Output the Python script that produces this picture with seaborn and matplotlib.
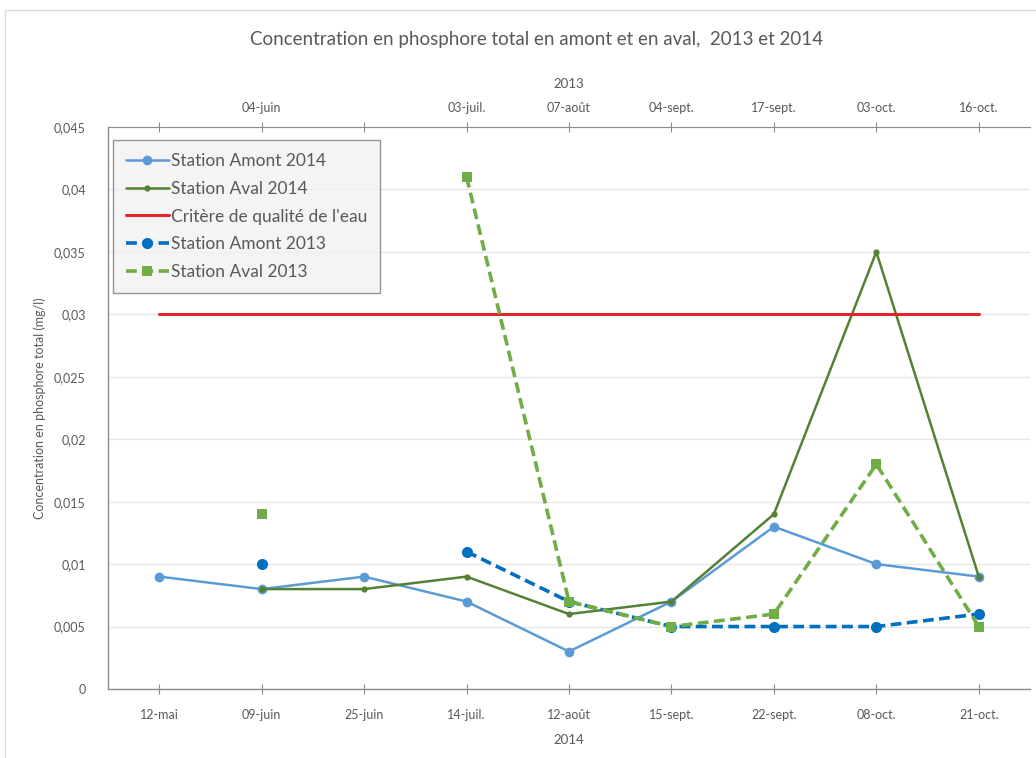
import numpy as np
import pandas as pd
import matplotlib
matplotlib.use("Agg")
import matplotlib.pyplot as plt
from matplotlib.lines import Line2D
from matplotlib.patches import Rectangle
import seaborn as sns

# Sampling dates (category axis): 2014 at the bottom, 2013 on top
dates_2014 = ["12-mai", "09-juin", "25-juin", "14-juil.", "12-août",
              "15-sept.", "22-sept.", "08-oct.", "21-oct."]
dates_2013 = ["", "04-juin", "", "03-juil.", "07-août",
              "04-sept.", "17-sept.", "03-oct.", "16-oct."]

# Total phosphorus (mg/l)
amont_2014 = [0.009, 0.008, 0.009, 0.007, 0.003, 0.007, 0.013, 0.010, 0.009]
aval_2014 = [np.nan, 0.008, 0.008, 0.009, 0.006, 0.007, 0.014, 0.035, 0.009]
critere = [0.03, 0.03, 0.03, 0.03, 0.03, 0.03, 0.03, 0.03, 0.03]
amont_2013 = [np.nan, 0.010, np.nan, 0.011, 0.007, 0.005, 0.005, 0.005, 0.006]
aval_2013 = [np.nan, 0.014, np.nan, 0.041, 0.007, 0.005, 0.006, 0.018, 0.005]

y_ticks = [0, 0.005, 0.01, 0.015, 0.02, 0.025, 0.03, 0.035, 0.04, 0.045]
y_labels = ["0", "0,005", "0,01", "0,015", "0,02", "0,025", "0,03", "0,035", "0,04", "0,045"]

TXT = "#595959"
AXC = "#8C8C8C"

sns.set_style("white")
plt.rcParams["font.family"] = ["Lato", "DejaVu Sans"]


def to_frame(values):
    # split on gaps so missing samples break the line
    df = pd.DataFrame({"x": range(len(values)), "y": values})
    df["seg"] = df["y"].isna().cumsum()
    return df.dropna()


fig = plt.figure(figsize=(10.36, 7.58), dpi=100)
ax = fig.add_axes([108 / 1036, 1 - 689 / 758, 922 / 1036, 562 / 758])

series = [
    ("Station Amont 2014", amont_2014, dict(color="#5B9BD5", marker="o", markersize=7, linewidth=1.8, linestyle="-")),
    ("Station Aval 2014", aval_2014, dict(color="#548235", marker="o", markersize=4.5, linewidth=1.8, linestyle="-")),
    ("Critère de qualité de l'eau", critere, dict(color="#E3242B", marker=None, markersize=0, linewidth=2.2, linestyle="-")),
    ("Station Amont 2013", amont_2013, dict(color="#0070C0", marker="o", markersize=8, linewidth=2.6, linestyle=(0, (3, 1.5)))),
    ("Station Aval 2013", aval_2013, dict(color="#70AD47", marker="s", markersize=7, linewidth=2.6, linestyle=(0, (3, 1.5)))),
]

handles = []
for name, vals, st in series:
    df = to_frame(vals)
    sns.lineplot(data=df, x="x", y="y", units="seg", estimator=None, ax=ax,
                 color=st["color"], marker=st["marker"], markersize=st["markersize"],
                 markeredgewidth=0, linewidth=st["linewidth"], linestyle=st["linestyle"],
                 legend=False)
    handles.append(Line2D([], [], color=st["color"], marker=st["marker"], markersize=st["markersize"],
                          markeredgewidth=0, linewidth=st["linewidth"], linestyle=st["linestyle"], label=name))

n = len(dates_2014)
ax.set_xlim(-0.5, n - 0.5)
ax.set_ylim(0, 0.045)
ax.set_xticks(range(n))
ax.set_xticklabels(dates_2014)
ax.set_yticks(y_ticks)
ax.set_yticklabels(y_labels)
ax.yaxis.grid(True, color="#E6E6E6", linewidth=1)
ax.set_axisbelow(True)
ax.set_xlabel("2014", color=TXT, fontsize=9.5, labelpad=9)
ax.set_ylabel("Concentration en phosphore total (mg/l)", color=TXT, fontsize=9, labelpad=6)

for s in ["right", "top"]:
    ax.spines[s].set_visible(False)
for s in ["left", "bottom"]:
    ax.spines[s].set_color(AXC)
    ax.spines[s].set_linewidth(1)
ax.tick_params(axis="x", direction="inout", length=7, color=AXC, labelcolor=TXT, labelsize=9, pad=11)
ax.tick_params(axis="y", length=0, labelcolor=TXT, labelsize=9, pad=16)

top = ax.twiny()
top.set_xlim(ax.get_xlim())
top.set_xticks(range(n))
top.set_xticklabels(dates_2013)
top.set_xlabel("2013", color=TXT, fontsize=9.5, labelpad=10)
for s in ["right", "left", "bottom"]:
    top.spines[s].set_visible(False)
top.spines["top"].set_color(AXC)
top.tick_params(axis="x", direction="inout", length=7, color=AXC, labelcolor=TXT, labelsize=9, pad=6)

leg = ax.legend(handles=handles, loc="upper left", bbox_to_anchor=(0.005, 0.977),
                fontsize=12.5, frameon=True, fancybox=False, handlelength=2.5,
                handletextpad=0.1, labelspacing=0.68, borderpad=0.75, borderaxespad=0)
leg.get_frame().set_facecolor("#F2F2F2")
leg.get_frame().set_edgecolor("#7F7F7F")
leg.get_frame().set_linewidth(1)
for t in leg.get_texts():
    t.set_color(TXT)

fig.text(0.518, 1 - 40 / 758, "Concentration en phosphore total en amont et en aval,  2013 et 2014",
         ha="center", va="center", fontsize=13.5, color=TXT)
fig.patches.append(Rectangle((5 / 1036, -0.01), 1.0, 1 - 10 / 758 + 0.01, transform=fig.transFigure,
                             fill=False, edgecolor="#D9D9D9", linewidth=1))

fig.savefig("out.png", dpi=100)
